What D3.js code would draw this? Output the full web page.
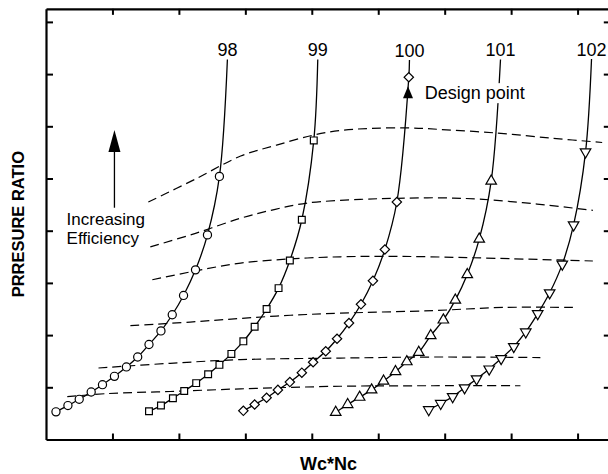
<!DOCTYPE html>
<html>
<head>
<meta charset="utf-8">
<script src="https://cdn.jsdelivr.net/npm/d3@7"></script>
<style>
  body { margin: 0; background: #fff; }
  svg { display: block; font-family: "Liberation Sans", Arial, sans-serif; }
</style>
</head>
<body>
<svg id="chart" width="608" height="474"></svg>
<script>
// axis ticks (no labels on this chart)
const xTicks = [1, 2, 3, 4, 5, 6, 7, 8];
const yTicks = [1, 2, 3, 4, 5, 6, 7, 8];

// speed lines (corrected speed, %)
const speedLabels = ["98", "99", "100", "101", "102"];
const speed98X = [0.15,0.33,0.50,0.68,0.85,1.03,1.21,1.38,1.55,1.73,1.90,2.07,2.25,2.43,2.61];
const speed98Y = [0.53,0.65,0.77,0.91,1.05,1.21,1.39,1.58,1.82,2.08,2.39,2.76,3.25,3.92,5.04];
const speed99X = [1.55,1.73,1.91,2.08,2.26,2.44,2.61,2.79,2.97,3.14,3.32,3.50,3.67,3.85,4.03];
const speed99Y = [0.54,0.65,0.79,0.93,1.08,1.25,1.43,1.64,1.88,2.16,2.50,2.90,3.43,4.21,5.73];
const speed100X = [2.97,3.14,3.32,3.49,3.67,3.85,4.02,4.21,4.38,4.56,4.74,4.92,5.10,5.28,5.46];
const speed100Y = [0.55,0.67,0.80,0.95,1.10,1.28,1.48,1.69,1.93,2.23,2.59,3.04,3.64,4.55,6.94];
const speed101X = [4.36,4.54,4.72,4.90,5.08,5.26,5.43,5.61,5.79,5.98,6.16,6.34,6.52,6.70];
const speed101Y = [0.52,0.67,0.81,0.95,1.12,1.30,1.49,1.67,1.99,2.29,2.67,3.16,3.84,4.95];
const speed102X = [5.76,5.94,6.12,6.30,6.48,6.67,6.85,7.04,7.22,7.40,7.58,7.77,7.94,8.12];
const speed102Y = [0.57,0.69,0.82,0.99,1.16,1.35,1.55,1.78,2.06,2.41,2.81,3.36,4.11,5.51];
// where each speed line ends at the top (no marker)
const speedTopX = [2.73, 4.09, 5.47, 6.84, 8.21];
const speedTopY = [7.28, 7.28, 7.27, 7.28, 7.29];

// efficiency contours (dashed)
const eff1X = [1.54,2.25,2.93,3.47,4.02,4.43,4.88,5.44,5.93,6.79,7.63,8.37];
const eff1Y = [4.55,4.99,5.43,5.64,5.83,5.92,5.96,5.97,5.94,5.87,5.77,5.69];
const eff2X = [1.57,2.25,2.93,3.45,3.93,4.73,5.29,5.93,6.58,7.39,8.23];
const eff2Y = [3.69,3.95,4.24,4.41,4.53,4.60,4.62,4.63,4.60,4.51,4.39];
const eff3X = [1.60,2.25,2.93,3.68,4.43,5.08,5.78,6.79,8.23];
const eff3Y = [3.06,3.23,3.38,3.46,3.50,3.51,3.50,3.47,3.42];
const eff4X = [1.27,2.17,2.93,3.68,4.43,5.83,6.88,7.96];
const eff4Y = [2.18,2.25,2.32,2.38,2.42,2.47,2.53,2.53];
const eff5X = [0.79,1.87,2.93,4.43,5.83,7.44];
const eff5Y = [1.37,1.46,1.53,1.56,1.58,1.57];
const eff6X = [0.32,0.93,1.87,2.93,4.43,5.83,7.14];
const eff6Y = [0.82,0.88,0.92,0.97,1.02,1.03,1.03];

// annotation anchors (data units)
const effArrowX = 1.03, effArrowY0 = 4.44, effArrowY1 = 5.93;
const effTextX = 0.31, effTextY = 4.11;
const effText = ["Increasing", "Efficiency"];
const designTextX = 5.70, designTextY = 6.52;

const width = 608, height = 474;
const plot = {left: 46, right: 610.8, top: 8.85, bottom: 439.5};

const svg = d3.select("#chart");
svg.append("rect").attr("width", width).attr("height", height).attr("fill", "#fff");

const x = d3.scaleLinear().domain([0, 8.5]).range([plot.left, plot.right]);
const y = d3.scaleLinear().domain([0, 8.25]).range([plot.bottom, plot.top]);

const zip = (xs, ys) => xs.map((v, i) => [v, ys[i]]);

// dashed efficiency lines
const effLines = [zip(eff1X, eff1Y), zip(eff2X, eff2Y), zip(eff3X, eff3Y),
                  zip(eff4X, eff4Y), zip(eff5X, eff5Y), zip(eff6X, eff6Y)];
const smooth = d3.line()
    .x(d => x(d[0]))
    .y(d => y(d[1]))
    .curve(d3.curveCatmullRom.alpha(0.5));

svg.append("g").selectAll("path").data(effLines)
  .enter().append("path")
    .attr("d", smooth)
    .attr("fill", "none")
    .attr("stroke", "#000")
    .attr("stroke-width", 1.2)
    .attr("stroke-dasharray", "9,5");

// speed lines
const speeds = [
  {xs: speed98X, ys: speed98Y, sym: d3.symbolCircle, size: 52, rot: 0},
  {xs: speed99X, ys: speed99Y, sym: d3.symbolSquare, size: 46, rot: 0},
  {xs: speed100X, ys: speed100Y, sym: d3.symbolSquare, size: 44, rot: 45},
  {xs: speed101X, ys: speed101Y, sym: d3.symbolTriangle, size: 48, rot: 0},
  {xs: speed102X, ys: speed102Y, sym: d3.symbolTriangle, size: 48, rot: 180}
].map((s, i) => ({
  ...s,
  label: speedLabels[i],
  pts: zip(s.xs, s.ys),
  top: [speedTopX[i], speedTopY[i]]
}));

svg.append("g").selectAll("path").data(speeds)
  .enter().append("path")
    .attr("d", s => smooth(s.pts.concat([s.top])))
    .attr("fill", "none")
    .attr("stroke", "#000")
    .attr("stroke-width", 1.3);

speeds.forEach(s => {
  svg.append("g").selectAll("path").data(s.pts)
    .enter().append("path")
      .attr("d", d3.symbol().type(s.sym).size(s.size))
      .attr("transform", d => `translate(${x(d[0])},${y(d[1])}) rotate(${s.rot})`)
      .attr("fill", "#fff")
      .attr("stroke", "#000")
      .attr("stroke-width", 1.2);
});

svg.append("g").selectAll("text").data(speeds)
  .enter().append("text")
    .attr("x", s => x(s.top[0]))
    .attr("y", s => y(s.top[1]) - 3)
    .attr("text-anchor", "middle")
    .attr("font-size", 18)
    .text(s => s.label);

// design point arrow, just under the last diamond of the 100% line
const design = speeds[2].pts[speeds[2].pts.length - 1];
const dx = x(design[0]) - 0.8, dy = y(design[1]);
svg.append("path")
    .attr("d", `M${dx},${dy + 9}L${dx - 5},${dy + 21}L${dx + 5},${dy + 21}Z`)
    .attr("fill", "#000");

const designLabel = svg.append("g");
const designText = designLabel.append("text")
    .attr("x", x(designTextX))
    .attr("y", y(designTextY))
    .attr("font-size", 18)
    .text("Design point");
const bb = designText.node().getBBox();
designLabel.insert("rect", "text")
    .attr("x", bb.x - 1).attr("y", bb.y)
    .attr("width", bb.width + 2).attr("height", bb.height)
    .attr("fill", "#fff");

// increasing efficiency arrow
svg.append("line")
    .attr("x1", x(effArrowX)).attr("x2", x(effArrowX))
    .attr("y1", y(effArrowY0)).attr("y2", y(effArrowY1) + 18)
    .attr("stroke", "#000").attr("stroke-width", 1.3);
const ax = x(effArrowX), ay = y(effArrowY1);
svg.append("path")
    .attr("d", `M${ax},${ay}L${ax - 6},${ay + 22}L${ax + 6},${ay + 22}Z`)
    .attr("fill", "#000");
const effLabel = svg.append("text")
    .attr("x", x(effTextX))
    .attr("y", y(effTextY))
    .attr("font-size", 17);
effLabel.selectAll("tspan").data(effText)
  .enter().append("tspan")
    .attr("x", x(effTextX))
    .attr("dy", (d, i) => i === 0 ? 0 : 19.5)
    .text(d => d);

// frame with inward ticks on all four sides
const axisStyle = g => {
  g.select(".domain").attr("stroke-width", 2.2);
  g.selectAll(".tick line").attr("stroke-width", 2);
  g.selectAll(".tick text").remove();
};
svg.append("g").attr("transform", `translate(0,${plot.bottom})`)
    .call(d3.axisBottom(x).tickValues(xTicks).tickSizeInner(-6).tickSizeOuter(0).tickFormat(""))
    .call(axisStyle);
svg.append("g").attr("transform", `translate(0,${plot.top})`)
    .call(d3.axisTop(x).tickValues(xTicks).tickSizeInner(-6).tickSizeOuter(0).tickFormat(""))
    .call(axisStyle);
svg.append("g").attr("transform", `translate(${plot.left},0)`)
    .call(d3.axisLeft(y).tickValues(yTicks).tickSizeInner(-7).tickSizeOuter(0).tickFormat(""))
    .call(axisStyle);
svg.append("g").attr("transform", `translate(${plot.right},0)`)
    .call(d3.axisRight(y).tickValues(yTicks).tickSizeInner(-7).tickSizeOuter(0).tickFormat(""))
    .call(axisStyle);

// axis titles
svg.append("text")
    .attr("x", (plot.left + plot.right) / 2)
    .attr("y", 470)
    .attr("text-anchor", "middle")
    .attr("font-size", 18)
    .attr("font-weight", "bold")
    .text("Wc*Nc");
svg.append("text")
    .attr("transform", `translate(24,${(plot.top + plot.bottom) / 2}) rotate(-90)`)
    .attr("text-anchor", "middle")
    .attr("font-size", 16.5)
    .attr("font-weight", "bold")
    .text("PRRESURE RATIO");
</script>
</body>
</html>
